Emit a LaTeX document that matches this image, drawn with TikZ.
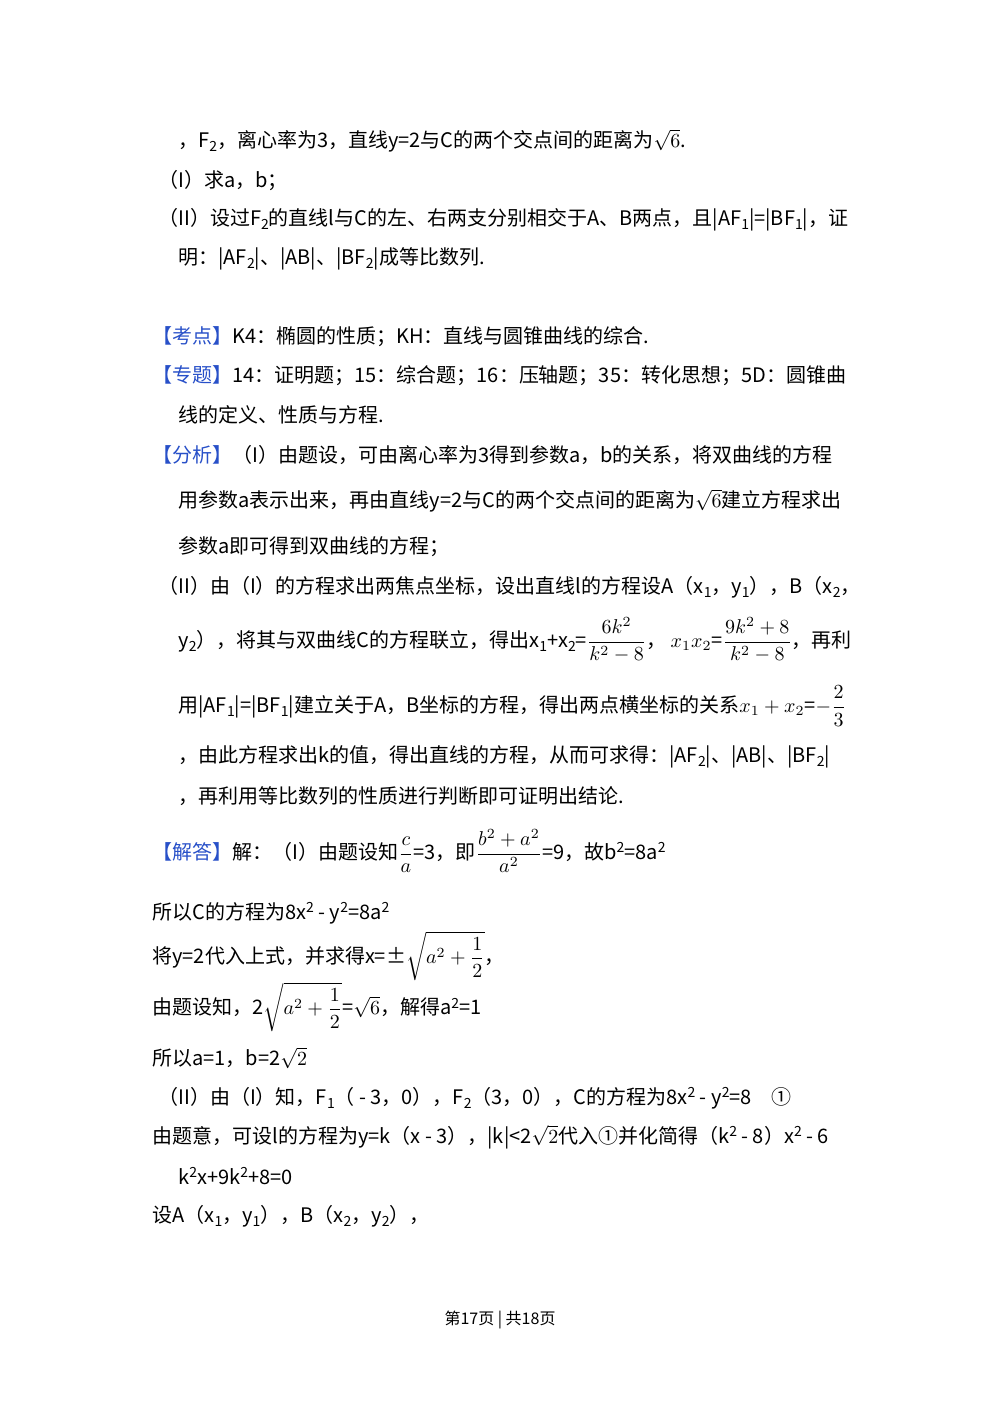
\documentclass[tikz,border=0pt]{standalone}
\usepackage{amsmath}
\usepackage{fontspec}
\setmainfont{Noto Sans CJK SC}
\newcommand{\lo}[1]{\raisebox{-0.35ex}{\scriptsize #1}}
\newcommand{\hi}[1]{\raisebox{0.6ex}{\scriptsize #1}}
\definecolor{hlblue}{RGB}{40,80,200}
\newcommand{\hl}[1]{\textcolor{hlblue}{#1}}
\begin{document}
\begin{tikzpicture}[x=0.5pt,y=-0.5pt,every node/.style={anchor=west,inner sep=0pt,font=\fontsize{10}{12}\selectfont}]
\useasboundingbox (0,0) rectangle (1000,1414);
\node (l1) at (178,141) {，F\lo{2}，离心率为3，直线y=2与C的两个交点间的距离为$\sqrt{6}$.};
\node (l2) at (158,181) {（I）求a，b；};
\node (l3) at (158,220) {（II）设过F\lo{2}的直线l与C的左、右两支分别相交于A、B两点，且|AF\lo{1}|=|BF\lo{1}|，证};
\node (l4) at (178,259) {明：|AF\lo{2}|、|AB|、|BF\lo{2}|成等比数列.};
\node (l5) at (152,337) {\hl{【考点】}K4：椭圆的性质；KH：直线与圆锥曲线的综合.};
\node (l6) at (152,376) {\hl{【专题】}14：证明题；15：综合题；16：压轴题；35：转化思想；5D：圆锥曲};
\node (l7) at (178,415) {线的定义、性质与方程.};
\node (l8) at (152,455) {\hl{【分析】}（I）由题设，可由离心率为3得到参数a，b的关系，将双曲线的方程};
\node (l9) at (178,501) {用参数a表示出来，再由直线y=2与C的两个交点间的距离为$\sqrt{6}$建立方程求出};
\node (l10) at (178,547) {参数a即可得到双曲线的方程；};
\node (l11) at (158,587) {（II）由（I）的方程求出两焦点坐标，设出直线l的方程设A（x\lo{1}，y\lo{1}），B（x\lo{2}，};
\node (l12) at (178,640) {y\lo{2}），将其与双曲线C的方程联立，得出x\lo{1}+x\lo{2}=$\dfrac{6k^2}{k^2-8}$，\ $x_1x_2$=$\dfrac{9k^2+8}{k^2-8}$，再利};
\node (l13) at (178,706) {用|AF\lo{1}|=|BF\lo{1}|建立关于A，B坐标的方程，得出两点横坐标的关系$x_1+x_2$=$-\dfrac{2}{3}$};
\node (l14) at (178,757) {，由此方程求出k的值，得出直线的方程，从而可求得：|AF\lo{2}|、|AB|、|BF\lo{2}|};
\node (l15) at (178,796) {，再利用等比数列的性质进行判断即可证明出结论.};
\node (l16) at (152,851) {\hl{【解答】}解：（I）由题设知$\dfrac{c}{a}$=3，即$\dfrac{b^2+a^2}{a^2}$=9，故b\hi{2}=8a\hi{2}};
\node (l17) at (152,913) {所以C的方程为8x\hi{2} - y\hi{2}=8a\hi{2}};
\node (l18) at (152,956) {将y=2代入上式，并求得x=±$\sqrt{a^2+\dfrac{1}{2}}$，};
\node (l19) at (152,1007) {由题设知，2$\sqrt{a^2+\dfrac{1}{2}}$=$\sqrt{6}$，解得a\hi{2}=1};
\node (l20) at (152,1058) {所以a=1，b=2$\sqrt{2}$};
\node (l21) at (158,1098) {（II）由（I）知，F\lo{1}（ - 3，0），F\lo{2}（3，0），C的方程为8x\hi{2} - y\hi{2}=8\quad ①};
\node (l22) at (152,1137) {由题意，可设l的方程为y=k（x - 3），|k|<2$\sqrt{2}$代入①并化简得（k\hi{2} - 8）x\hi{2} - 6};
\node (l23) at (178,1176) {k\hi{2}x+9k\hi{2}+8=0};
\node (l24) at (152,1216) {设A（x\lo{1}，y\lo{1}），B（x\lo{2}，y\lo{2}），};
\node[anchor=center,font=\fontsize{8}{10}\selectfont] (f) at (500,1320) {第17页 | 共18页};
\end{tikzpicture}
\end{document}
